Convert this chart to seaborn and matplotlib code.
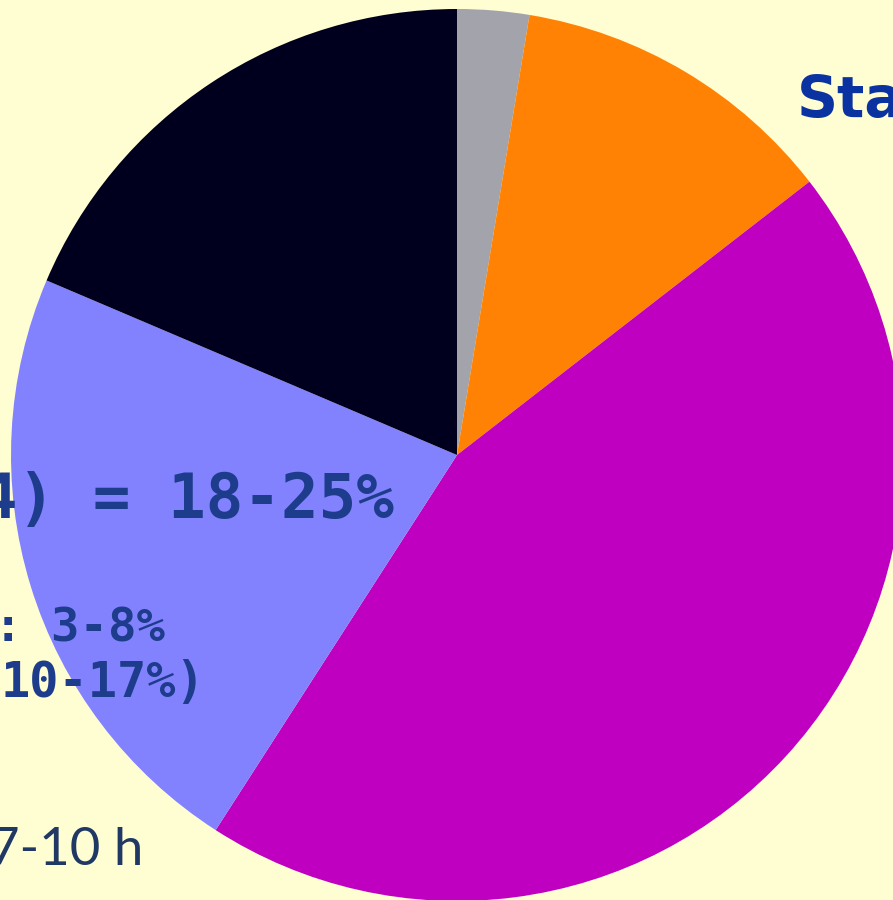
import matplotlib
matplotlib.use('Agg')
import matplotlib.pyplot as plt
import seaborn as sns

# slices clockwise from 12 o'clock
slices = ['grey', 'orange', 'magenta', 'blue', 'black']
shares = [2.6, 11.9, 44.6, 22.3, 18.6]
colours = ['#A3A3AB', '#FF8204', '#C000C0', '#8282FF', '#00001E']

bg = '#FFFDD2'
sns.set_style('white')

fig = plt.figure(figsize=(8.93, 9.0), dpi=100, facecolor=bg)
ax = fig.add_axes([0, 0, 1, 1])
ax.set_facecolor(bg)

ax.pie(shares, colors=colours, startangle=90, counterclock=False,
       radius=1.0, center=(0, 0), wedgeprops=dict(linewidth=0))

# pixel mapping: centre (457, 455), radius 446 px
cx, cy, r = 457.0, 455.0, 446.0
ax.set_xlim((0 - cx) / r, (893 - cx) / r)
ax.set_ylim((cy - 900) / r, (cy - 0) / r)
ax.set_aspect('auto')
ax.axis('off')


def px(x, y):
    return (x - cx) / r, (cy - y) / r


ax.text(*px(797, 117), 'Sta', color='#0A32A0', fontsize=41, fontweight='bold',
        family='DejaVu Sans', ha='left', va='baseline')
ax.text(*px(394, 518), '4) = 18-25%', color='#1E3C8C', fontsize=45,
        fontweight='bold', family='DejaVu Sans Mono', ha='right', va='baseline')
ax.text(*px(165, 642), ': 3-8%', color='#1E3C8C', fontsize=34,
        fontweight='bold', family='DejaVu Sans Mono', ha='right', va='baseline')
ax.text(*px(205, 697), '10-17%)', color='#1E3C8C', fontsize=35,
        fontweight='bold', family='DejaVu Sans Mono', ha='right', va='baseline')
ax.text(*px(143, 865), '7-10 h', color='#1F3864', fontsize=38,
        family='Lato', ha='right', va='baseline')

fig.savefig('out.png', dpi=100, facecolor=bg)
